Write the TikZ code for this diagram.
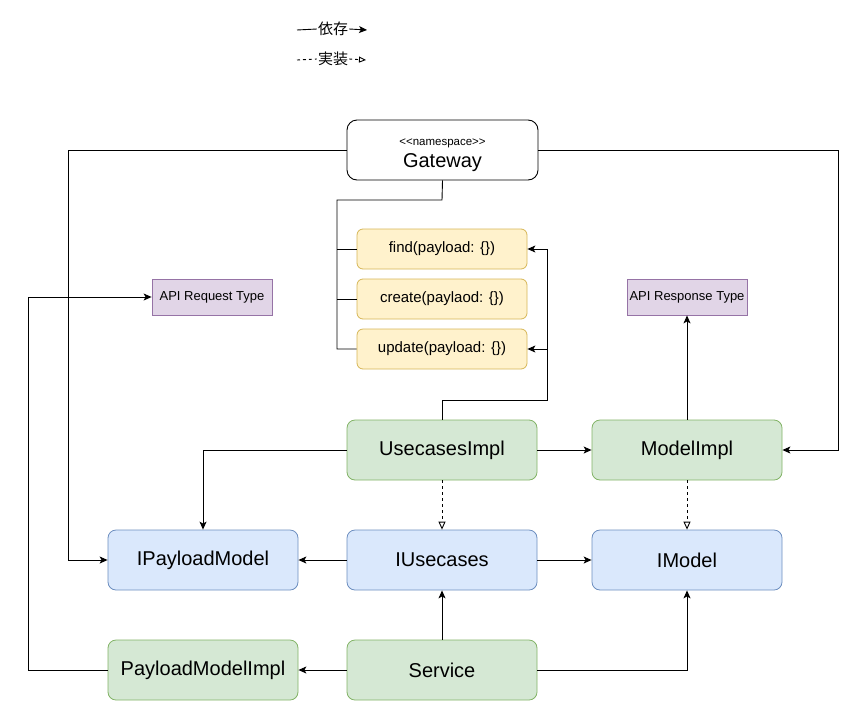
\documentclass[tikz,border=0pt]{standalone}
\usepackage{fontspec}
\setmainfont{Liberation Sans}
\newfontfamily\cjk{Noto Sans CJK JP}
\usetikzlibrary{arrows.meta}
\definecolor{ylwF}{HTML}{FFF2CC}\definecolor{ylwD}{HTML}{D6B656}
\definecolor{grnF}{HTML}{D5E8D4}\definecolor{grnD}{HTML}{82B366}
\definecolor{bluF}{HTML}{DAE8FC}\definecolor{bluD}{HTML}{6C8EBF}
\definecolor{purF}{HTML}{E1D5E7}\definecolor{purD}{HTML}{9673A6}
\tikzset{
  box/.style={rounded corners=8pt,minimum width=190pt,minimum height=60pt,inner sep=0pt,font=\fontsize{20}{22}\selectfont,line width=0.8pt},
  grn/.style={box,fill=grnF,draw=grnD},
  blu/.style={box,fill=bluF,draw=bluD},
  mth/.style={rounded corners=6pt,minimum width=170pt,minimum height=40pt,inner sep=0pt,fill=ylwF,draw=ylwD,font=\fontsize{15}{17}\selectfont,line width=0.8pt},
  api/.style={minimum width=120pt,minimum height=36pt,inner sep=0pt,fill=purF,draw=purD,font=\fontsize{13}{15}\selectfont,line width=0.8pt},
  dep/.style={line width=0.9pt,-{Stealth[length=8pt,width=7pt,inset=2pt]}},
  impl/.style={line width=0.9pt,dashed,dash pattern=on 3pt off 3pt,-{Triangle[open,length=8pt,width=7pt]}},
  ln/.style={line width=0.9pt},
}
\begin{document}
\begin{tikzpicture}[x=1pt,y=-1pt]
\useasboundingbox (0,0) rectangle (866,720);
% legend
\coordinate (l1a) at (297,30); \coordinate (l1b) at (367,30);
\node[font=\cjk\fontsize{15}{17}\selectfont,fill=white,inner sep=1pt] (lg1) at (333,29) {依存};
\draw[ln] (l1a) -- (lg1.west);
\draw[dep] (lg1.east) -- (l1b);
\coordinate (l2a) at (297,60); \coordinate (l2b) at (366,60);
\node[font=\cjk\fontsize{15}{17}\selectfont,fill=white,inner sep=1pt] (lg2) at (333,59) {実装};
\draw[ln,dashed,dash pattern=on 3pt off 3pt] (l2a) -- (lg2.west);
\draw[ln,dashed,dash pattern=on 3pt off 3pt,-{Triangle[open,length=7pt,width=6pt]}] (lg2.east) -- (l2b);
% gateway
\node[draw,rounded corners=10pt,minimum width=191pt,minimum height=60pt,inner sep=0pt,line width=0.9pt] (gw) at (442.5,150) {};
\node[font=\fontsize{11.5}{13}\selectfont] (gwa) at (442.5,143) {{<}{<}namespace{>}{>}};
\node[font=\fontsize{20}{22}\selectfont] (gwb) at (442.5,163) {Gateway};
% methods
\node[mth] (find) at (442,249) {find(payload: \{\})};
\node[mth] (create) at (442,299) {create(paylaod: \{\})};
\node[mth] (update) at (442,349) {update(payload: \{\})};
% api
\node[api] (req) at (212,297) {API Request Type};
\node[api] (res) at (687,297) {API Response Type};
% main boxes
\node[grn] (uci) at (442,450) {UsecasesImpl};
\node[grn] (mi) at (687,450) {ModelImpl};
\node[blu] (ipm) at (203,560) {IPayloadModel};
\node[blu] (iuc) at (442,560) {IUsecases};
\node[blu] (im) at (687,560) {IModel};
\node[grn] (pmi) at (203,670) {PayloadModelImpl};
\node[grn] (svc) at (442,670) {Service};
% gateway connectors
\draw[dep] (gw.west) -- (68,150) |- (ipm.west);
\draw[dep] (gw.east) -- (838,150) |- (mi.east);
\draw[ln] (gw.south) -- (442,200) -- (337,200) |- (update.west);
\draw[ln] (337,249) -- (find.west);
\draw[ln] (337,299) -- (create.west);
% usecasesimpl connectors
\draw[dep] (uci.north) -- (442,400) -- (547,400) |- (find.east);
\draw[dep] (547,349) -- (update.east);
\draw[dep] (uci.east) -- (mi.west);
\draw[dep] (uci.west) -| (ipm.north);
\draw[impl] (uci.south) -- (iuc.north);
\draw[impl] (mi.south) -- (im.north);
\draw[dep] (mi.north) -- (res.south);
% interfaces
\draw[dep] (iuc.west) -- (ipm.east);
\draw[dep] (iuc.east) -- (im.west);
% service
\draw[dep] (svc.west) -- (pmi.east);
\draw[dep] (svc.north) -- (iuc.south);
\draw[dep] (svc.east) -| (im.south);
\draw[dep] (pmi.west) -- (28,670) |- (req.west);
\end{tikzpicture}
\end{document}
